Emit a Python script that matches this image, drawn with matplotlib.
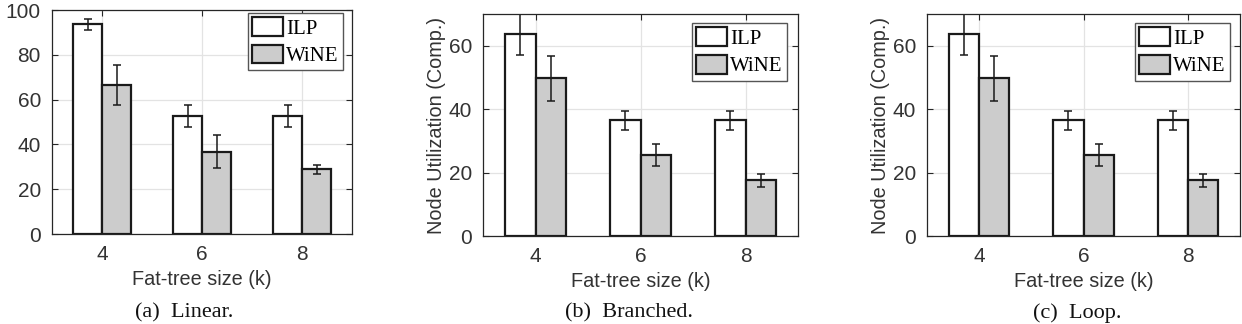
import matplotlib
matplotlib.use("Agg")
import matplotlib.pyplot as plt
import numpy as np

# data
sizes = ["4", "6", "8"]
series = ["ILP", "WiNE"]

linear_ilp = [93.6, 52.7, 52.7]
linear_ilp_err = [2.4, 4.8, 4.8]
linear_wine = [66.6, 36.8, 28.9]
linear_wine_err = [9.0, 7.4, 2.1]

branched_ilp = [63.7, 36.5, 36.5]
branched_ilp_err = [6.5, 3.0, 3.0]
branched_wine = [49.7, 25.5, 17.6]
branched_wine_err = [7.2, 3.4, 2.0]

loop_ilp = [63.7, 36.5, 36.5]
loop_ilp_err = [6.5, 3.0, 3.0]
loop_wine = [49.7, 25.5, 17.6]
loop_wine_err = [7.2, 3.4, 2.0]

captions = ["(a)  Linear.", "(b)  Branched.", "(c)  Loop."]
ylims = [(0, 100), (0, 70), (0, 70)]
yticks = [[0, 20, 40, 60, 80, 100], [0, 20, 40, 60], [0, 20, 40, 60]]

W, H = 1242, 324
fig = plt.figure(figsize=(W / 100, H / 100), dpi=100)

sans = ["Liberation Sans", "DejaVu Sans"]
serif = ["Liberation Serif", "DejaVu Serif"]
frame_col = "#262626"
fill_col = "#cccccc"

# axes boxes in pixels: left, top, right, bottom
boxes = [(52, 10, 352, 234), (483, 14, 798, 236), (927, 14, 1240, 236)]
legend_anchor = [(0.97, 0.987), (0.965, 0.959), (0.968, 0.959)]
caption_x = [184, 629, 1077]

panels = [
    (linear_ilp, linear_ilp_err, linear_wine, linear_wine_err),
    (branched_ilp, branched_ilp_err, branched_wine, branched_wine_err),
    (loop_ilp, loop_ilp_err, loop_wine, loop_wine_err),
]

x = np.arange(1, len(sizes) + 1)
bw = 0.29

for i, (ilp, ilp_e, wine, wine_e) in enumerate(panels):
    l, t, r, b = boxes[i]
    ax = fig.add_axes([l / W, 1 - b / H, (r - l) / W, (b - t) / H])
    ax.set_axisbelow(True)
    ax.grid(True, color="#e3e3e3", lw=0.9)

    ekw = dict(ecolor="#1a1a1a", elinewidth=1.1, capsize=3, capthick=1.1)
    ax.bar(x - bw / 2, ilp, bw, color="white", edgecolor="#1a1a1a", lw=1.6,
           yerr=ilp_e, error_kw=ekw, label=series[0])
    ax.bar(x + bw / 2, wine, bw, color=fill_col, edgecolor="#1a1a1a", lw=1.6,
           yerr=wine_e, error_kw=ekw, label=series[1])

    ax.set_xlim(0.5, 3.5)
    ax.set_ylim(*ylims[i])
    ax.set_xticks(x)
    ax.set_xticklabels(sizes)
    ax.set_yticks(yticks[i])
    ax.tick_params(direction="in", length=4, width=0.8, colors=frame_col,
                   labelsize=15, top=True, right=True, pad=8)
    for lab in ax.get_xticklabels() + ax.get_yticklabels():
        lab.set_family(sans)
        lab.set_color("#333333")
    for sp in ax.spines.values():
        sp.set_color(frame_col)
        sp.set_linewidth(0.9)

    ax.set_xlabel("Fat-tree size (k)", fontsize=14.3, family=sans, color="#333333", labelpad=4)
    if i > 0:
        ax.set_ylabel("Node Utilization (Comp.)", fontsize=14.3, family=sans,
                      color="#333333", labelpad=2)

    leg = ax.legend(loc="upper right", bbox_to_anchor=legend_anchor[i],
                    borderaxespad=0, fancybox=False, framealpha=1,
                    edgecolor="#555555", prop=dict(family=serif, size=15),
                    handlelength=1.5, handleheight=1.0, handletextpad=0.15,
                    borderpad=0.2, labelspacing=0.3)
    leg.get_frame().set_linewidth(1.0)

    fig.text(caption_x[i] / W, 1 - 313 / H, captions[i], ha="center", va="center",
             fontsize=16, family=serif, color="#111111")

fig.savefig("out.png", dpi=100)
